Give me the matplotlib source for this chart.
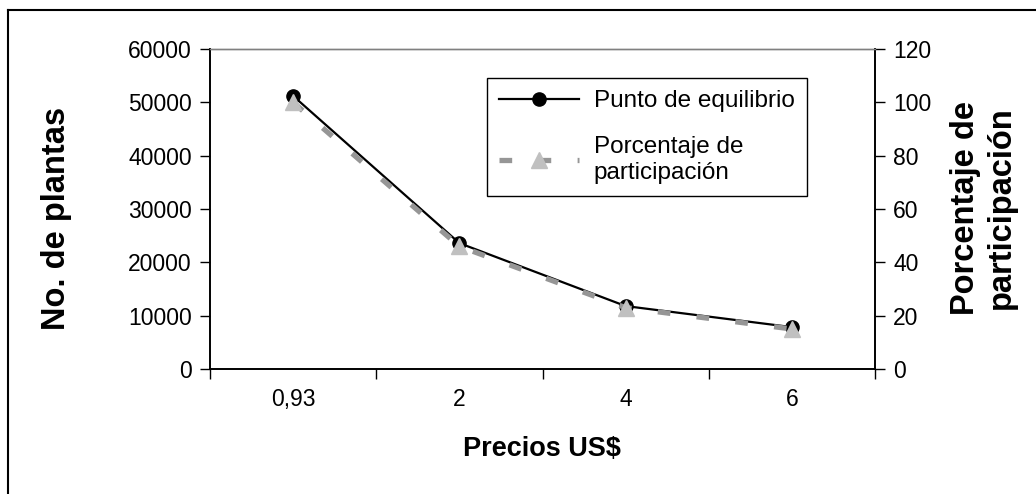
import numpy as np
import matplotlib.pyplot as plt
from matplotlib.lines import Line2D

plt.rcParams['font.family'] = ['Liberation Sans', 'DejaVu Sans']

precios = ['0,93', '2', '4', '6']
plantas = [51200, 23600, 11800, 7850]
porcentaje = [100, 46, 23, 15]

W, H = 1036, 494
fig = plt.figure(figsize=(W / 100, H / 100), dpi=100)

# plot area in pixels: left 210, right 875, top 49, bottom 369
ax = fig.add_axes([210 / W, 1 - 369 / H, (875 - 210) / W, (369 - 49) / H])
ax2 = ax.twinx()

x = np.arange(len(precios))

ax.plot(x, plantas, color='black', lw=1.6, marker='o', ms=9.5,
        mfc='black', mec='black', zorder=3, label='Punto de equilibrio')
ax2.plot(x, porcentaje, color='#969696', lw=3.8, ls=(0, (2.4, 5.0)),
         dash_capstyle='butt', marker='^', ms=11, mfc='#c0c0c0',
         mec='#c0c0c0', zorder=4, label='Porcentaje de\nparticipación')

ax.set_xlim(-0.5, len(precios) - 0.5)
ax.set_ylim(0, 60000)
ax.set_yticks(np.arange(0, 60001, 10000))
ax2.set_ylim(0, 120)
ax2.set_yticks(np.arange(0, 121, 20))

# tick marks between categories, labels at the category centres
ax.set_xticks(np.arange(-0.5, len(precios), 1.0))
ax.set_xticklabels([])
ax.set_xticks(x, minor=True)
ax.set_xticklabels(precios, minor=True)
ax.tick_params(axis='x', which='major', direction='out', length=7, width=1)
ax.tick_params(axis='x', which='minor', length=0, pad=14, labelsize=16.5)
ax.tick_params(axis='y', direction='out', length=7, width=1, pad=6, labelsize=16.5)
ax2.tick_params(axis='y', direction='out', length=7, width=1, pad=6, labelsize=16.5)

for a in (ax, ax2):
    for s in ('left', 'right', 'bottom'):
        a.spines[s].set_linewidth(1.2)
        a.spines[s].set_color('black')
    a.spines['top'].set_color('#808080')
    a.spines['top'].set_linewidth(1.0)

ax.set_zorder(ax2.get_zorder() - 1)
ax.patch.set_visible(True)
ax2.patch.set_visible(False)

fig.text(56 / W, 1 - 218 / H, 'No. de plantas', rotation=90, ha='center',
         va='center', fontsize=23.5, fontweight='bold')
fig.text(983 / W, 1 - 208 / H, 'Porcentaje de\nparticipación', rotation=90,
         ha='center', va='center', fontsize=23.5, fontweight='bold',
         multialignment='center', linespacing=1.2)
fig.text(542 / W, 1 - 449 / H, 'Precios US$', ha='center', va='center',
         fontsize=19.5, fontweight='bold')

h1, l1 = ax.get_legend_handles_labels()
h2, l2 = ax2.get_legend_handles_labels()
leg = ax2.legend(h1 + h2, l1 + l2, loc='upper left',
                 bbox_to_anchor=(487 / W, 1 - 78 / H), bbox_transform=fig.transFigure,
                 fontsize=17.5, frameon=True, fancybox=False, edgecolor='black',
                 framealpha=1, borderpad=0.5, labelspacing=1.0,
                 handlelength=3.3, handletextpad=0.6, numpoints=1,
                 borderaxespad=0)
leg.get_frame().set_linewidth(1.0)

# outer chart border (top and left edges)
fig.add_artist(Line2D([8 / W, 1], [1 - 10 / H, 1 - 10 / H], color='black', lw=1.5,
                      transform=fig.transFigure))
fig.add_artist(Line2D([8 / W, 8 / W], [0, 1 - 10 / H], color='black', lw=1.5,
                      transform=fig.transFigure))

fig.savefig('out.png', dpi=100, facecolor='white')
